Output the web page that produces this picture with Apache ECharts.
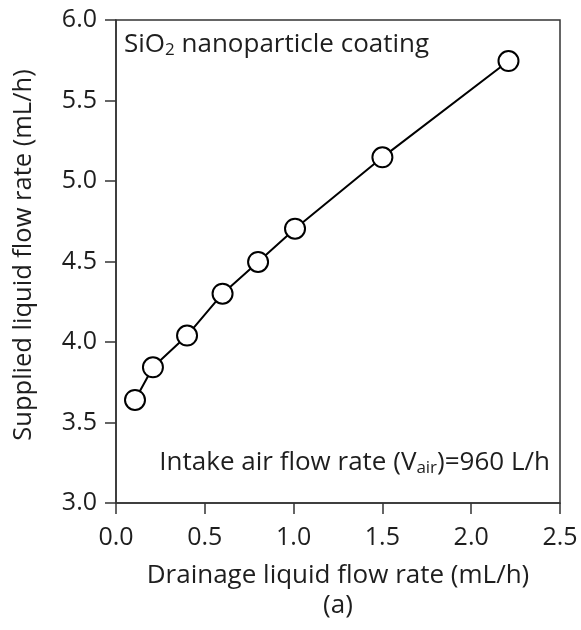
<!DOCTYPE html>
<html>
<head>
<meta charset="utf-8">
<script src="https://cdn.jsdelivr.net/npm/echarts@6/dist/echarts.min.js"></script>
<style>
html,body{margin:0;padding:0;background:#fff;}
#chart{width:581px;height:630px;}
</style>
</head>
<body>
<div id="chart"></div>
<script>
const drainage = [0.107, 0.208, 0.40, 0.60, 0.80, 1.008, 1.50, 2.21];
const supplied = [3.64, 3.843, 4.04, 4.30, 4.497, 4.704, 5.147, 5.745];
const xTicks = [0.0, 0.5, 1.0, 1.5, 2.0, 2.5];
const yTicks = [3.0, 3.5, 4.0, 4.5, 5.0, 5.5, 6.0];

const FONT = '"Open Sans", "Noto Sans", sans-serif';
const TXT = '#1e1e1e';
const AX = '#333333';

const chart = echarts.init(document.getElementById('chart'), null, {renderer: 'canvas'});
chart.setOption({
  backgroundColor: '#ffffff',
  animation: false,
  grid: {left: 116, right: 21, top: 20, bottom: 127, show: true, borderColor: AX, borderWidth: 1.5, backgroundColor: 'transparent'},
  xAxis: {
    type: 'value', min: xTicks[0], max: xTicks[xTicks.length - 1], interval: 0.5,
    name: 'Drainage liquid flow rate (mL/h)\n(a)',
    nameLocation: 'middle', nameGap: 58,
    nameTextStyle: {fontFamily: FONT, fontSize: 26, color: TXT, lineHeight: 30},
    axisLine: {show: true, lineStyle: {color: AX, width: 1.5}},
    axisTick: {show: true, inside: false, length: 11, lineStyle: {color: AX, width: 1.5}},
    axisLabel: {fontFamily: FONT, fontSize: 25, color: TXT, margin: 22, formatter: v => v.toFixed(1)},
    splitLine: {show: false}
  },
  yAxis: {
    type: 'value', min: yTicks[0], max: yTicks[yTicks.length - 1], interval: 0.5,
    name: 'Supplied liquid flow rate (mL/h)',
    nameLocation: 'middle', nameGap: 79, nameRotate: 90,
    nameTextStyle: {fontFamily: FONT, fontSize: 25.5, color: TXT, padding: [0, 0, 0, 13]},
    axisLine: {show: true, lineStyle: {color: AX, width: 1.5}},
    axisTick: {show: true, inside: false, length: 11, lineStyle: {color: AX, width: 1.5}},
    axisLabel: {fontFamily: FONT, fontSize: 25, color: TXT, margin: 19, formatter: v => v.toFixed(1)},
    splitLine: {show: false}
  },
  graphic: [
    {
      type: 'text', left: 124, top: 32,
      style: {
        text: '{n|SiO}{s|2}{n| nanoparticle coating}',
        rich: {
          n: {fontFamily: FONT, fontSize: 26, fill: TXT},
          s: {fontFamily: FONT, fontSize: 17, fill: TXT, padding: [11, 0, 0, 0]}
        }
      }
    },
    {
      type: 'text', right: 31, top: 450,
      style: {
        text: '{n|Intake air flow rate (V}{s|air}{n|)=960 L/h}',
        rich: {
          n: {fontFamily: FONT, fontSize: 26, fill: TXT},
          s: {fontFamily: FONT, fontSize: 17, fill: TXT, padding: [11, 0, 0, 0]}
        }
      }
    }
  ],
  series: [{
    type: 'line',
    data: drainage.map((x, i) => [x, supplied[i]]),
    symbol: 'circle', symbolSize: 20,
    lineStyle: {color: '#000', width: 2},
    itemStyle: {color: '#ffffff', borderColor: '#000', borderWidth: 2},
    z: 3
  }]
});
</script>
</body>
</html>
